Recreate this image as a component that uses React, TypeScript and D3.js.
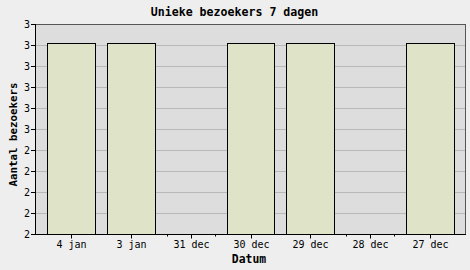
import React from "react";
import * as d3 from "d3";

const categories = ["4 jan", "3 jan", "31 dec", "30 dec", "29 dec", "28 dec", "27 dec"];
const visitors = [2.91, 2.91, 0, 2.91, 2.91, 0, 2.91];
const yTicks = [2, 2.1, 2.2, 2.3, 2.4, 2.5, 2.6, 2.7, 2.8, 2.9, 3];
const title = "Unieke bezoekers 7 dagen";
const xTitle = "Datum";
const yTitle = "Aantal bezoekers";

const W = 470, H = 270;
const L = 35, R = 465, T = 24, B = 234;

export default function App() {
  const x = d3.scaleBand<string>().domain(categories).range([41.5, 459.5]).paddingInner(0.2).paddingOuter(0.1);
  const y = d3.scaleLinear().domain([2, 3]).range([B, T]);
  const mono = "'DejaVu Sans Mono', 'Liberation Mono', monospace";
  const px = (v: number) => Math.round(v) + 0.5;
  return (
    <svg width={W} height={H} style={{ position: "absolute", left: 0, top: 0 }} xmlns="http://www.w3.org/2000/svg">
      <rect x={0} y={0} width={W} height={H} fill="#eeeeee" />
      <rect x={L} y={T} width={R - L} height={B - T} fill="#dddddd" />
      {yTicks.map((t, i) => (
        <line key={"g" + i} x1={L} x2={R} y1={px(y(t))} y2={px(y(t))} stroke="#b8b8b8" strokeWidth={1} />
      ))}
      {categories.map((c, i) => {
        const v = visitors[i];
        const x0 = px(x(c)!);
        const x1 = px(x(c)! + x.bandwidth());
        if (v >= 2) {
          const yt = px(y(v));
          return (
            <rect key={"b" + i} x={x0} y={yt} width={x1 - x0} height={px(B) - yt} fill="#dfe4c8" stroke="#000" strokeWidth={1} />
          );
        }
        return (
          <g key={"b" + i}>
            <line x1={x0} x2={x0} y1={B} y2={B + 2.5} stroke="#000" />
            <line x1={x1} x2={x1} y1={B} y2={B + 2.5} stroke="#000" />
          </g>
        );
      })}
      {/* frame */}
      <line x1={L} x2={R} y1={px(T)} y2={px(T)} stroke="#555" />
      <line x1={px(R)} x2={px(R)} y1={T} y2={B} stroke="#555" />
      <line x1={px(L)} x2={px(L)} y1={T} y2={B + 1} stroke="#000" />
      <line x1={L} x2={R + 1} y1={px(B)} y2={px(B)} stroke="#000" />
      {yTicks.map((t, i) => (
        <g key={"yt" + i}>
          <line x1={L - 4} x2={L} y1={px(y(t))} y2={px(y(t))} stroke="#000" />
          <text x={30} y={y(t) + 3.5} textAnchor="end" fontFamily={mono} fontSize={10} fill="#000">
            {Math.round(t)}
          </text>
        </g>
      ))}
      {categories.map((c, i) => {
        const cx = px(x(c)! + x.bandwidth() / 2);
        return (
          <g key={"xt" + i}>
            <line x1={cx} x2={cx} y1={B} y2={B + 4.5} stroke="#000" />
            <text x={cx} y={247.5} textAnchor="middle" fontFamily={mono} fontSize={10} fill="#000">
              {c}
            </text>
          </g>
        );
      })}
      <text x={234.5} y={16} textAnchor="middle" fontFamily={mono} fontWeight="bold" fontSize={11.6} fill="#000">
        {title}
      </text>
      <text x={249} y={262.5} textAnchor="middle" fontFamily={mono} fontWeight="bold" fontSize={11.4} fill="#000">
        {xTitle}
      </text>
      <text transform="translate(16.5,134.5) rotate(-90)" textAnchor="middle" fontFamily={mono} fontWeight="bold" fontSize={10.8} fill="#000">
        {yTitle}
      </text>
    </svg>
  );
}
